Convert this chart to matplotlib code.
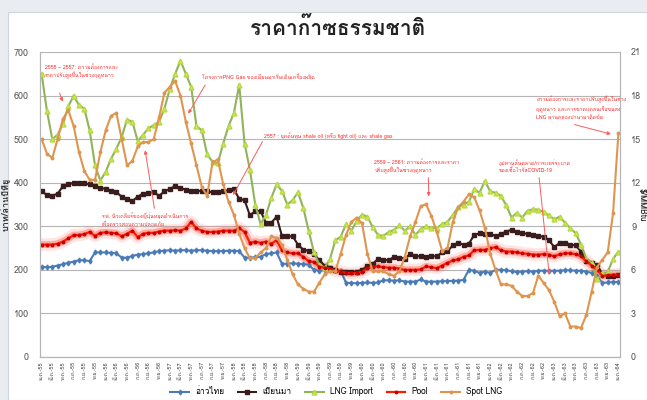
import matplotlib
matplotlib.use("Agg")
import matplotlib.pyplot as plt
from matplotlib import font_manager
from matplotlib.ft2font import FT2Font
from matplotlib.patches import Rectangle

# monthly data, ม.ค.55 .. ม.ค.64 (109 months)
thai_months = ['ม.ค.', 'มี.ค.', 'พ.ค.', 'ก.ค.', 'ก.ย.', 'พ.ย.']
years = list(range(55, 65))

gulf = [207, 206, 207, 210, 213, 216, 219, 222, 222, 220,
        240, 240, 240, 239, 238, 228, 228, 232, 235, 236,
        238, 240, 243, 244, 245, 244, 245, 245, 244, 245,
        245, 244, 243, 243, 243, 244, 244, 243, 228, 228,
        229, 230, 236, 238, 240, 214, 214, 215, 214, 213,
        212, 200, 198, 199, 200, 199, 198, 170, 170, 169,
        170, 171, 170, 171, 176, 176, 175, 176, 173, 173,
        173, 178, 173, 173, 173, 174, 174, 175, 175, 177,
        200, 198, 193, 196, 193, 200, 200, 199, 197, 195,
        196, 197, 196, 198, 198, 198, 198, 198, 199, 199,
        198, 198, 196, 193, 185, 170, 171, 172, 172]

myanmar = [380, 372, 370, 375, 392, 396, 400, 400, 399, 396,
           392, 388, 386, 382, 378, 368, 362, 358, 368, 375,
           377, 378, 370, 380, 386, 392, 388, 384, 382, 380,
           382, 380, 378, 378, 380, 383, 385, 363, 360, 325,
           335, 335, 308, 308, 322, 278, 277, 277, 258, 246,
           244, 236, 222, 210, 205, 200, 196, 196, 195, 196,
           200, 208, 214, 225, 223, 222, 230, 228, 226, 236,
           232, 231, 230, 232, 231, 240, 243, 256, 262, 258,
           260, 280, 284, 283, 282, 278, 282, 288, 292, 287,
           285, 282, 279, 278, 276, 268, 252, 262, 262, 258,
           256, 242, 220, 216, 212, 190, 186, 185, 188]

lng_import = [650, 565, 500, 510, 535, 575, 600, 578, 570, 520,
              440, 405, 425, 455, 478, 505, 545, 540, 495, 510,
              525, 532, 540, 570, 615, 650, 680, 650, 620, 530,
              520, 465, 448, 445, 490, 530, 560, 625, 490, 430,
              350, 305, 325, 365, 396, 381, 350, 360, 378, 342,
              290, 240, 212, 205, 225, 268, 276, 305, 290, 312,
              327, 322, 298, 280, 278, 287, 292, 302, 290, 300,
              280, 294, 300, 296, 296, 305, 310, 326, 344, 350,
              356, 385, 377, 404, 380, 377, 370, 348, 320, 331,
              320, 336, 339, 338, 333, 325, 316, 322, 308, 296,
              284, 258, 225, 216, 178, 192, 195, 225, 242]

pool = [258, 258, 258, 260, 265, 272, 280, 280, 282, 287,
        278, 285, 286, 285, 284, 277, 283, 290, 275, 283,
        285, 285, 288, 290, 290, 291, 290, 295, 310, 295,
        290, 287, 287, 288, 290, 290, 290, 296, 287, 262,
        265, 262, 265, 260, 268, 245, 240, 238, 238, 230,
        220, 218, 207, 205, 203, 198, 196, 193, 192, 193,
        195, 204, 207, 208, 206, 205, 205, 203, 200, 200,
        200, 201, 208, 206, 204, 210, 216, 222, 224, 230,
        233, 245, 246, 246, 250, 252, 245, 242, 242, 240,
        238, 237, 235, 235, 236, 235, 231, 236, 238, 238,
        236, 231, 220, 210, 200, 186, 188, 189, 189]

# $/MMBtu, right axis
spot_lng = [15.0, 14.0, 13.7, 15.0, 16.4, 17.0, 15.9, 14.1, 12.8, 12.2,
            12.2, 14.1, 15.6, 16.6, 16.8, 15.0, 13.2, 13.5, 14.5, 14.8,
            14.8, 15.0, 16.5, 18.2, 18.6, 19.0, 18.0, 16.2, 14.7, 13.2,
            11.7, 11.1, 13.4, 13.6, 11.9, 10.7, 9.8, 8.5, 7.5, 6.8,
            6.8, 7.2, 7.5, 8.3, 8.2, 7.7, 6.7, 5.7, 5.0, 4.7,
            4.5, 4.5, 5.1, 5.7, 5.9, 5.9, 7.1, 8.4, 9.3, 9.6,
            9.2, 7.1, 5.9, 5.9, 5.9, 5.7, 5.6, 5.9, 6.9, 8.3,
            9.3, 10.4, 10.5, 9.7, 8.6, 7.3, 7.5, 9.3, 10.3, 10.7,
            11.2, 11.0, 10.1, 8.9, 7.1, 6.0, 5.0, 5.0, 4.9, 4.5,
            4.2, 4.2, 4.4, 5.6, 5.1, 4.6, 3.8, 2.8, 3.0, 2.1,
            2.1, 2.0, 2.9, 4.5, 6.2, 6.7, 7.2, 9.9, 15.4]


def thai_font():
    # first installed font that has Thai glyphs
    for f in font_manager.fontManager.ttflist:
        try:
            if FT2Font(f.fname).get_char_index(ord('ก')):
                return f.name
        except Exception:
            pass
    return 'DejaVu Sans'


plt.rcParams['font.family'] = [thai_font(), 'DejaVu Sans']

months = list(range(len(gulf)))
tick_pos = months[::2]
tick_lab = []
for y in years:
    for m in thai_months:
        tick_lab.append(f'{m}-{y}')
tick_lab = tick_lab[:len(tick_pos)]

fig = plt.figure(figsize=(6.47, 4.0), dpi=100, facecolor='#e9edf1')
fig.patches.append(Rectangle((8 / 647, 0), 1, 1 - 12 / 400, transform=fig.transFigure,
                             facecolor='white', edgecolor='#d0d6dc', lw=0.8, zorder=-5))
ax = fig.add_axes([40 / 647, 1 - 357 / 400, 580 / 647, 305 / 400])
ax.set_facecolor('none')
ax2 = ax.twinx()

ax.plot(months, gulf, color='#4a7bb7', lw=1.5, marker='d', ms=2.5, label='อ่าวไทย', zorder=3)
ax.plot(months, myanmar, color='#3a1c1c', lw=1.5, marker='s', ms=2.2, label='เมียนมา', zorder=3)
ax.plot(months, lng_import, color='#8fb45a', lw=1.5, marker='^', ms=3.5, mfc='#d2ea3c',
        mec='#b8d84a', label='LNG Import', zorder=3)
ax.plot(months, pool, color='#ff7a6a', lw=9, alpha=0.2, solid_capstyle='round', zorder=2)
ax.plot(months, pool, color='#ff3a2a', lw=5, alpha=0.35, solid_capstyle='round', zorder=2)
ax.plot(months, pool, color='#ff1a00', lw=1.6, marker='o', ms=1.8, mfc='#c80000',
        mec='#c80000', label='Pool', zorder=3)
ax2.plot(months, spot_lng, color='#e0954e', lw=1.5, marker='o', ms=1.8, label='Spot LNG')

ax.set_xlim(-0.3, 108.3)
ax.set_ylim(0, 700)
ax2.set_ylim(0, 21)
ax.set_yticks(range(0, 701, 100))
ax2.set_yticks(range(0, 22, 3))
ax.grid(axis='y', color='#b5b5b5', lw=0.8)
ax.set_axisbelow(True)
for a in (ax, ax2):
    a.spines['top'].set_visible(False)
    for s in ('left', 'right', 'bottom'):
        a.spines[s].set_color('#b5b5b5')
    a.tick_params(axis='y', length=0, labelsize=6.5, labelcolor='#555555', pad=8)
ax.set_xticks(tick_pos)
ax.set_xticklabels(tick_lab, rotation=90, fontsize=4, color='#444444')
ax.tick_params(axis='x', length=0, pad=3)

ax.set_ylabel('บาท/ล้านบีทียู', fontsize=6.5, fontweight='bold', color='#333333', labelpad=2)
ax2.set_ylabel('$/MMBtu', fontsize=6, fontweight='bold', color='#333333', rotation=270, labelpad=4)

fig.text(0.523, 0.93, 'ราคาก๊าซธรรมชาติ', ha='center', va='center', fontsize=15,
         fontweight='bold', color='#222222')

red = '#ff2a2a'
arr = dict(arrowstyle='-|>', color='#ff5a5a', lw=0.7, mutation_scale=5)
notes = [
    ('2555 – 2557: ความต้องการและ\nราคาปรับสูงขึ้นในช่วงฤดูหนาว', (0.6, 655), (4.1, 580), (3.2, 612)),
    ('โครงการPNG Gas ของเมียนมาเริ่มเดินเครื่องผลิต', (30.0, 643), (27.2, 553), (30.9, 630)),
    ('2557 : ยุคต้นทุน shale oil (หรือ tight oil) และ shale gas', (41.6, 507), (35.6, 366), (41.6, 500)),
    ('รฟ. นิวเคลียร์ของญี่ปุ่นหยุดดำเนินการ\nเพื่อตรวจสอบความปลอดภัย', (11.3, 315), (19.3, 481), (21.2, 335)),
    ('2559 – 2561: ความต้องการและราคา\nปรับสูงขึ้นในช่วงฤดูหนาว', (62.3, 437), (72.5, 362), (72.4, 418)),
    ('อุปทานล้นตลาด/การแพร่ระบาด\nของเชื้อไวรัสCOVID-19', (85.6, 437), (95.1, 182), (93.1, 418)),
    ('ความต้องการและราคาปรับสูงขึ้นในช่วง\nฤดูหนาว และการขาดแคลนเรือขนส่ง\nLNG ผ่านคลองปานามาติดขัด',
     (92.6, 572), (107.1, 510), (99.3, 535)),
]
for txt, pos, tip, tail in notes:
    ax.text(pos[0], pos[1], txt, fontsize=3.8, color=red, ha='left', va='center', linespacing=1.35, zorder=5)
    ax.annotate('', xy=tip, xytext=tail, arrowprops=arr, zorder=5)

h1, l1 = ax.get_legend_handles_labels()
h2, l2 = ax2.get_legend_handles_labels()
fig.legend(h1 + h2, l1 + l2, loc='lower center', bbox_to_anchor=(0.52, -0.01), ncol=5,
           frameon=False, fontsize=6, handlelength=2.2, columnspacing=1.6)

fig.savefig('out.png', dpi=100, facecolor=fig.get_facecolor())
